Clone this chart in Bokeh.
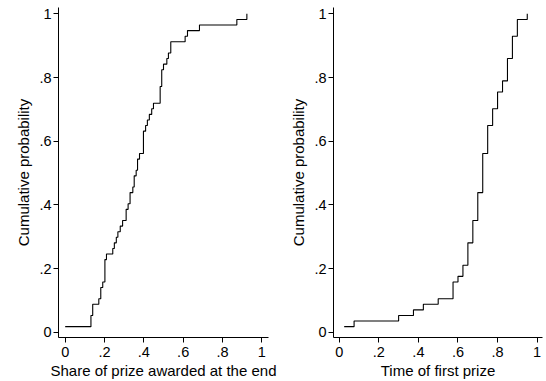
import numpy as np
from bokeh.plotting import figure
from bokeh.layouts import row
from bokeh.models import FixedTicker, Range1d
from bokeh.embed import file_html
from bokeh.resources import INLINE

# Share of the prize awarded at the end (one value per contest)
share_at_end = [
    0.0,
    0.131, 0.131,
    0.14, 0.14,
    0.171,
    0.181, 0.181,
    0.191,
    0.202, 0.202, 0.202, 0.202,
    0.21, 0.242, 0.25, 0.26, 0.268, 0.28, 0.292,
    0.31, 0.31,
    0.32,
    0.33, 0.33,
    0.344,
    0.351, 0.351,
    0.361,
    0.368, 0.368,
    0.378,
    0.398, 0.398, 0.398, 0.398,
    0.409, 0.418, 0.428, 0.44, 0.449,
    0.483, 0.483, 0.483,
    0.491, 0.491, 0.491,
    0.5, 0.517, 0.525,
    0.537, 0.537,
    0.61, 0.622, 0.683, 0.873, 0.924,
]

# Time of the first prize (fraction of the contest duration)
time_first_prize = [
    0.025, 0.075, 0.3, 0.375, 0.425, 0.5,
    0.575, 0.575, 0.575,
    0.6,
    0.625, 0.625,
    0.65, 0.65, 0.65, 0.65,
    0.675, 0.675, 0.675, 0.675,
    0.7, 0.7, 0.7, 0.7, 0.7,
    0.725, 0.725, 0.725, 0.725, 0.725, 0.725, 0.725,
    0.75, 0.75, 0.75, 0.75, 0.75,
    0.775, 0.775, 0.775,
    0.8, 0.8, 0.8,
    0.825, 0.825,
    0.85, 0.85, 0.85, 0.85,
    0.875, 0.875, 0.875, 0.875,
    0.9, 0.9, 0.9,
    0.95,
]

tick_values = [0, 0.2, 0.4, 0.6, 0.8, 1]
tick_labels = ["0", ".2", ".4", ".6", ".8", "1"]

FONT = "Liberation Sans"


def ecdf(values):
    v = np.sort(np.asarray(values, dtype=float))
    xs, counts = np.unique(v, return_counts=True)
    return xs, np.cumsum(counts) / len(v)


def style_axis(ax, label):
    ax.ticker = FixedTicker(ticks=tick_values)
    ax.major_label_overrides = {v: t for v, t in zip(tick_values, tick_labels)}
    ax.axis_label = label
    ax.axis_label_text_font = FONT
    ax.axis_label_text_font_size = "15px"
    ax.axis_label_text_font_style = "normal"
    ax.axis_label_text_color = "black"
    ax.major_label_text_font = FONT
    ax.major_label_text_font_size = "14.5px"
    ax.major_label_text_color = "black"
    ax.axis_line_color = "black"
    ax.major_tick_line_color = "black"
    ax.major_tick_in = 0
    ax.major_tick_out = 5
    ax.minor_tick_line_color = None


def cdf_panel(values, xlabel, x_range, width, border_left, border_right):
    p = figure(
        width=width, height=381,
        x_range=Range1d(*x_range), y_range=Range1d(-0.0166, 1.02),
        output_backend="svg", toolbar_location=None,
        min_border_left=border_left, min_border_right=border_right,
        min_border_top=7, min_border_bottom=42,
    )
    p.outline_line_color = None
    p.grid.visible = False
    p.background_fill_color = "white"
    p.border_fill_color = "white"

    xs, cp = ecdf(values)
    p.step(xs, cp, mode="after", line_color="black", line_width=1.1)

    style_axis(p.xaxis[0], xlabel)
    style_axis(p.yaxis[0], "Cumulative probability")
    p.xaxis[0].major_label_standoff = 4
    p.xaxis[0].axis_label_standoff = 2
    p.yaxis[0].major_label_standoff = 2
    p.yaxis[0].axis_label_standoff = 4
    p.yaxis[0].major_label_orientation = "horizontal"
    return p


# the left panel is a little wider so its long x label is not cut off
left = cdf_panel(share_at_end, "Share of prize awarded at the end",
                 (-0.034, 1.034), 281, 58, 13)
right = cdf_panel(time_first_prize, "Time of first prize",
                  (-0.029, 1.027), 265, 52, 4)

layout = row(left, right)
open("out.html", "w").write(file_html(layout, INLINE))
